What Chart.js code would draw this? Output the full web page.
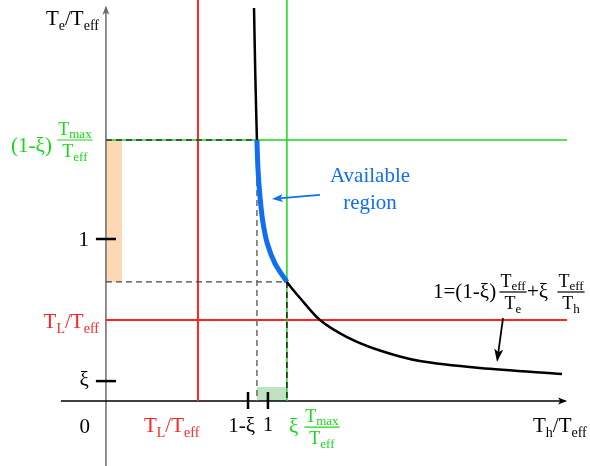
<!DOCTYPE html>
<html>
<head>
<meta charset="utf-8">
<script src="https://cdn.jsdelivr.net/npm/chart.js@4.4.0/dist/chart.umd.min.js"></script>
<style>
html, body { margin: 0; padding: 0; background: #fff; }
#wrap { width: 590px; height: 466px; }
</style>
</head>
<body>
<div id="wrap"><canvas id="chart"></canvas></div>
<script>
// schematic values, in units of T_eff
const xi = 0.123;
const tLowX = 0.568;     // T_L/T_eff on the Th axis
const tLowY = 0.5;       // T_L/T_eff on the Te axis
const tMaxX = 1.117;     // xi*Tmax/Teff
const tMaxY = 1.611;     // (1-xi)*Tmax/Teff
const kneeX = 0.932;     // curve at Te = tMaxY
const kneeY = 0.735;     // curve at Th = tMaxX
const xTicks = [1 - xi, 1];
const yTicks = [xi, 1];

// the constraint curve 1=(1-xi)Teff/Te + xi Teff/Th
const curveX = [0.914, 0.922, 0.932, 0.938, 0.950, 0.968, 0.995, 1.043, 1.117, 1.198, 1.321, 1.488, 1.691, 1.938, 2.309, 2.815];
const curveY = [2.426, 2.012, 1.611, 1.440, 1.270, 1.110, 0.975, 0.850, 0.735, 0.636, 0.500, 0.395, 0.312, 0.247, 0.204, 0.167];

const xMin = -0.654, xMax = 2.988, yMin = -0.401, yMax = 2.475;
const xAxisFrom = -0.278, xAxisTo = 2.846, yAxisTo = 2.44;

const RED = "#ff2424", GREEN = "#16d916", BLUE = "#0f6ff0", GREY = "#6a6a6a";

function pts(xs, ys) {
    return xs.map((x, i) => ({ x: x, y: ys[i] }));
}

function seg(x1, y1, x2, y2, color, width, dash, order) {
    return {
        data: [{ x: x1, y: y1 }, { x: x2, y: y2 }],
        showLine: true,
        borderColor: color,
        borderWidth: width,
        borderDash: dash || [],
        pointRadius: 0,
        order: order,
        clip: false
    };
}

const datasets = [
    // blue available region on top
    {
        data: pts(curveX.slice(2, 9), curveY.slice(2, 9)),
        showLine: true, borderColor: BLUE, borderWidth: 5,
        pointRadius: 0, tension: 0.3, order: 0
    },
    {
        data: pts(curveX, curveY),
        showLine: true, borderColor: "#000", borderWidth: 2.5,
        pointRadius: 0, tension: 0.3, order: 1
    },
    // dashed guides
    seg(0, tMaxY, kneeX, tMaxY, "#333", 1.5, [6, 4], 2),
    seg(kneeX, tMaxY, kneeX, 0, GREY, 1.5, [6, 4], 2),
    seg(0, kneeY, tMaxX, kneeY, "#444", 1.3, [6, 4], 2),
    seg(tMaxX, kneeY, tMaxX, 0, "#222", 1.5, [6, 4], 2),
    // green and red limits
    seg(0, tMaxY, xAxisTo, tMaxY, GREEN, 1.5, null, 3),
    seg(tMaxX, 0, tMaxX, yMax, GREEN, 1.5, null, 3),
    seg(0, tLowY, xAxisTo, tLowY, RED, 2, null, 3),
    seg(tLowX, 0, tLowX, yMax, RED, 2, null, 3),
    // axes
    seg(xAxisFrom, 0, xAxisTo - 0.01, 0, "#000", 1.5, null, 4),
    seg(0, yMin, 0, yAxisTo - 0.01, GREY, 1.5, null, 4)
];
// ticks
yTicks.forEach(v => datasets.push(seg(-0.062, v, 0.062, v, "#000", 2.5, null, 1)));
xTicks.forEach(v => datasets.push(seg(v, 0.056, v, -0.049, "#000", 2.5, null, 1)));

function setFont(ctx, size) {
    ctx.font = "normal " + size + "px 'Liberation Serif', serif";
}

function rich(ctx, parts, x, y, align, color, size, subSize, subDy) {
    let total = 0;
    const widths = parts.map(p => {
        setFont(ctx, p[1] ? subSize : size);
        const w = ctx.measureText(p[0]).width;
        total += w;
        return w;
    });
    let cx = align === "right" ? x - total : align === "center" ? x - total / 2 : x;
    ctx.fillStyle = color;
    ctx.textBaseline = "alphabetic";
    ctx.textAlign = "left";
    parts.forEach((p, i) => {
        setFont(ctx, p[1] ? subSize : size);
        ctx.fillText(p[0], cx, p[1] ? y + subDy : y);
        cx += widths[i];
    });
    return total;
}

function frac(ctx, num, den, cx, barY, color) {
    ctx.save();
    let w = 0;
    [num, den].forEach(parts => {
        let t = 0;
        parts.forEach(p => {
            setFont(ctx, p[1] ? 13 : 18);
            t += ctx.measureText(p[0]).width;
        });
        w = Math.max(w, t);
    });
    ctx.strokeStyle = color;
    ctx.lineWidth = 1.2;
    ctx.beginPath();
    ctx.moveTo(cx - w / 2 - 1, barY);
    ctx.lineTo(cx + w / 2 + 1, barY);
    ctx.stroke();
    rich(ctx, num, cx, barY - 5, "center", color, 18, 13, 3);
    rich(ctx, den, cx, barY + 17, "center", color, 18, 13, 4);
    ctx.restore();
}

function arrow(ctx, x1, y1, x2, y2, color, width, len, half) {
    const a = Math.atan2(y2 - y1, x2 - x1);
    ctx.strokeStyle = color;
    ctx.fillStyle = color;
    ctx.lineWidth = width;
    if (Math.hypot(x2 - x1, y2 - y1) > 1) {
        ctx.beginPath();
        ctx.moveTo(x1, y1);
        ctx.lineTo(x2 - Math.cos(a) * len * 0.6, y2 - Math.sin(a) * len * 0.6);
        ctx.stroke();
    }
    ctx.beginPath();
    ctx.moveTo(x2, y2);
    ctx.lineTo(x2 - Math.cos(a) * len - Math.sin(a) * half, y2 - Math.sin(a) * len + Math.cos(a) * half);
    ctx.lineTo(x2 - Math.cos(a) * len * 0.75, y2 - Math.sin(a) * len * 0.75);
    ctx.lineTo(x2 - Math.cos(a) * len + Math.sin(a) * half, y2 - Math.sin(a) * len - Math.cos(a) * half);
    ctx.closePath();
    ctx.fill();
}

const decor = {
    id: "decor",
    beforeDatasetsDraw(chart) {
        const { ctx, scales } = chart;
        const X = v => scales.x.getPixelForValue(v), Y = v => scales.y.getPixelForValue(v);
        ctx.save();
        ctx.fillStyle = "#fdd8b4";
        ctx.fillRect(X(0), Y(tMaxY), X(0.099) - X(0), Y(kneeY) - Y(tMaxY));
        ctx.fillStyle = "#bfe3bf";
        ctx.fillRect(X(kneeX), Y(0.086), X(tMaxX) - X(kneeX), Y(0) - Y(0.086));
        ctx.restore();
    },
    afterDraw(chart) {
        const { ctx, scales } = chart;
        const X = v => scales.x.getPixelForValue(v), Y = v => scales.y.getPixelForValue(v);
        ctx.save();
        // axis arrow heads
        arrow(ctx, X(0), Y(yAxisTo), X(0), Y(yAxisTo) - 0.01, GREY, 1.5, 9, 3.5);
        arrow(ctx, X(xAxisTo), Y(0), X(xAxisTo) + 0.01, Y(0), "#000", 1.5, 9, 3.5);
        // pointers
        arrow(ctx, X(1.321), Y(1.272), X(1.025), Y(1.247), BLUE, 1.8, 11, 4);
        arrow(ctx, X(2.451), Y(0.512), X(2.414), Y(0.241), "#000", 1.8, 13, 4.5);

        const x0 = X(0), y0 = Y(0);
        // axis titles
        rich(ctx, [["T", 0], ["e", 1], ["/", 0], ["T", 0], ["eff", 1]], x0 - 7, 25, "right", "#000", 21, 14, 5);
        rich(ctx, [["T", 0], ["h", 1], ["/", 0], ["T", 0], ["eff", 1]], X(xAxisTo) - 34, y0 + 31, "left", "#000", 21, 14, 5);
        // y labels
        rich(ctx, [["1", 0]], x0 - 17, Y(1) + 7, "right", "#000", 21, 14, 5);
        rich(ctx, [["\u03be", 0]], x0 - 17, Y(xi) + 5, "right", "#000", 21, 14, 5);
        rich(ctx, [["0", 0]], x0 - 16, y0 + 32, "right", "#000", 21, 14, 5);
        rich(ctx, [["T", 0], ["L", 1], ["/", 0], ["T", 0], ["eff", 1]], x0 - 7, Y(tLowY) + 8, "right", RED, 21, 14, 5);
        rich(ctx, [["(1-\u03be)", 0]], x0 - 54, Y(tMaxY) + 12, "right", GREEN, 21, 14, 5);
        frac(ctx, [["T", 0], ["max", 1]], [["T", 0], ["eff", 1]], x0 - 31, Y(tMaxY), GREEN);
        // x labels
        rich(ctx, [["T", 0], ["L", 1], ["/", 0], ["T", 0], ["eff", 1]], X(tLowX) - 54, y0 + 31, "left", RED, 21, 14, 5);
        rich(ctx, [["1-\u03be", 0]], X(xTicks[0]) + 7, y0 + 31, "right", "#000", 21, 14, 5);
        rich(ctx, [["1", 0]], X(xTicks[1]), y0 + 30, "center", "#000", 21, 14, 5);
        rich(ctx, [["\u03be", 0]], X(tMaxX) + 2, y0 + 32, "left", GREEN, 21, 14, 5);
        frac(ctx, [["T", 0], ["max", 1]], [["T", 0], ["eff", 1]], X(tMaxX) + 35, y0 + 26, GREEN);
        // available region
        rich(ctx, [["Available", 0]], 370, 182, "center", BLUE, 21, 14, 5);
        rich(ctx, [["region", 0]], 370, 209, "center", BLUE, 21, 14, 5);
        // equation
        const ey = 292;
        rich(ctx, [["1=(1-\u03be)", 0]], 433, ey + 6, "left", "#000", 21, 14, 5);
        frac(ctx, [["T", 0], ["eff", 1]], [["T", 0], ["e", 1]], 513, ey, "#000");
        rich(ctx, [["+\u03be", 0]], 527, ey + 6, "left", "#000", 21, 14, 5);
        frac(ctx, [["T", 0], ["eff", 1]], [["T", 0], ["h", 1]], 571, ey, "#000");
        ctx.restore();
    }
};

new Chart(document.getElementById("chart"), {
    type: "scatter",
    data: { datasets: datasets },
    options: {
        responsive: true,
        maintainAspectRatio: false,
        animation: false,
        layout: { padding: 0 },
        plugins: { legend: { display: false }, tooltip: { enabled: false } },
        scales: {
            x: { type: "linear", min: xMin, max: xMax, display: false },
            y: { type: "linear", min: yMin, max: yMax, display: false }
        }
    },
    plugins: [decor]
});
</script>
</body>
</html>
